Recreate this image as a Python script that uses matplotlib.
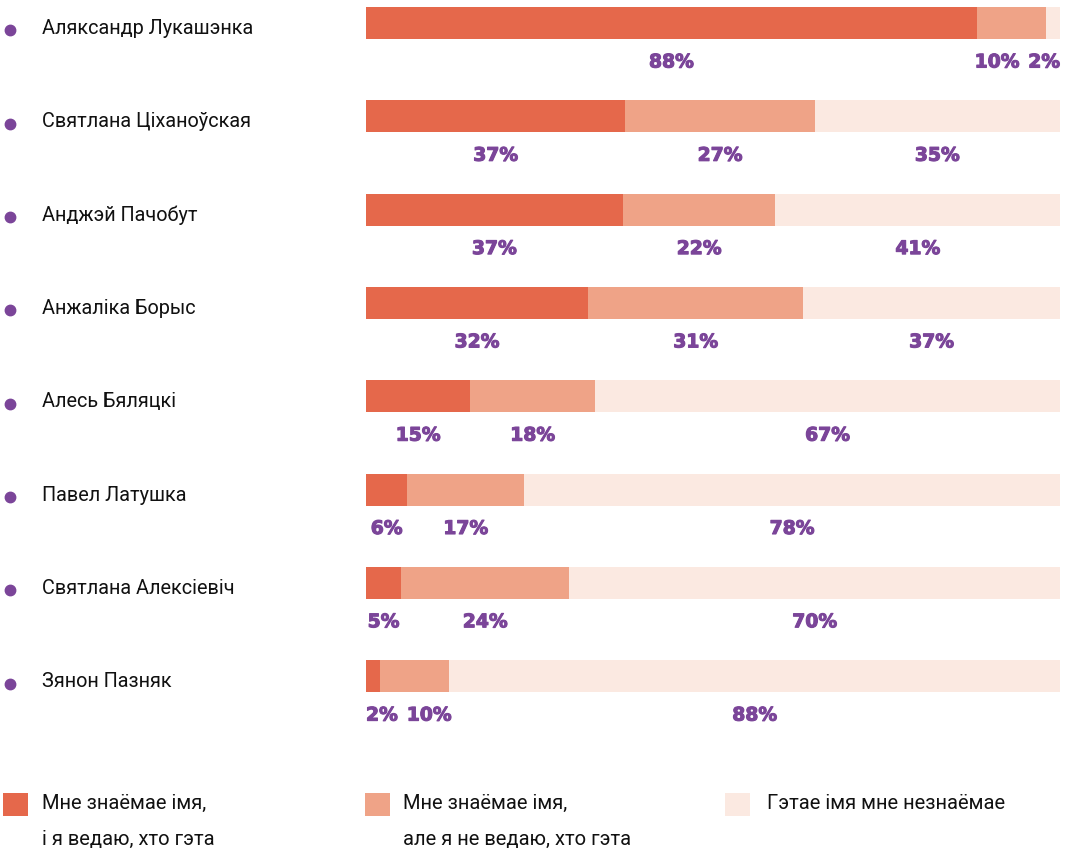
import matplotlib
matplotlib.use("Agg")
import matplotlib.pyplot as plt
import matplotlib.patheffects as pe
import numpy as np

# %% data (percent of respondents)
names = ["Аляксандр Лукашэнка", "Святлана Ціханоўская", "Анджэй Пачобут",
         "Анжаліка Борыс", "Алесь Бяляцкі", "Павел Латушка",
         "Святлана Алексіевіч", "Зянон Пазняк"]
know_who = [88, 37, 37, 32, 15, 6, 5, 2]
know_name_only = [10, 27, 22, 31, 18, 17, 24, 10]
unknown = [2, 35, 41, 37, 67, 78, 70, 88]
legend_labels = ["Мне знаёмае імя,\nі я ведаю, хто гэта",
                 "Мне знаёмае імя,\nале я не ведаю, хто гэта",
                 "Гэтае імя мне незнаёмае"]

colors = ["#E5684B", "#EFA387", "#FBE9E1"]
purple = "#7B4599"
name_font = "Roboto"
num_font = "DejaVu Sans"

W, H = 1072, 852
fig = plt.figure(figsize=(W / 100, H / 100), dpi=100)
row = 93.3
ax = fig.add_axes([366 / W, 1 - 746 / H, (1060 - 366) / W, 746 / H])
ax.set_xlim(0, 100)
ax.set_ylim((746 - 23) / row, -23 / row)
ax.axis("off")

vals = np.array([know_who, know_name_only, unknown], dtype=float)
shares = vals / vals.sum(axis=0) * 100
y = np.arange(len(names))
bar_h = 32 / row

left = np.zeros(len(names))
for k in range(3):
    ax.barh(y, shares[k], left=left, height=bar_h, color=colors[k], linewidth=0)
    left += shares[k]

# names with purple bullets
tr = matplotlib.transforms.blended_transform_factory(fig.transFigure, ax.transData)
for i, nm in enumerate(names):
    ax.plot([10 / W], [i + 0.08], "o", color=purple, ms=7.5, transform=tr, clip_on=False)
    ax.text(42 / W, i + 0.06, nm, transform=tr, ha="left", va="center",
            fontsize=14.3, family=name_font, color="#111111")

# percent labels under each segment, nudged apart where they collide
lab_y = 39 / row
thick = [pe.withStroke(linewidth=0.8, foreground=purple)]
texts = []
for i in range(len(names)):
    starts = np.concatenate([[0], np.cumsum(shares[:, i])[:-1]])
    row_txt = []
    for k in range(3):
        t = ax.text(starts[k] + shares[k, i] / 2, i + lab_y, f"{vals[k, i]:.0f}%",
                    ha="center", va="center", fontsize=13.5, family=num_font,
                    fontweight="bold", color=purple, path_effects=thick)
        row_txt.append(t)
    texts.append(row_txt)

fig.canvas.draw()
rend = fig.canvas.get_renderer()
x0_px = ax.transData.transform((0, 0))[0]
x1_px = ax.transData.transform((100, 0))[0]
gap = 9
for row_txt in texts:
    ext = [t.get_window_extent(rend) for t in row_txt]
    lefts = [e.x0 for e in ext]
    widths = [e.width for e in ext]
    prev_r = -np.inf
    for k in range(3):
        lefts[k] = max(lefts[k], prev_r + gap, x0_px)
        prev_r = lefts[k] + widths[k]
    nxt = np.inf
    for k in range(2, -1, -1):
        r = min(lefts[k] + widths[k], nxt - gap, x1_px)
        lefts[k] = r - widths[k]
        nxt = lefts[k]
    for k, t in enumerate(row_txt):
        cx = ax.transData.inverted().transform((lefts[k] + widths[k] / 2, 0))[0]
        t.set_x(cx)

# legend at the bottom
for k, (sx, tx) in enumerate([(3, 42), (365, 403), (725, 767)]):
    fig.patches.append(matplotlib.patches.Rectangle(
        (sx / W, 1 - 816 / H), 25 / W, 23 / H, transform=fig.transFigure,
        color=colors[k], linewidth=0))
    fig.text(tx / W, 1 - 794 / H, legend_labels[k], ha="left", va="top",
             fontsize=14.5, family=name_font, color="#111111", linespacing=2.15)

fig.savefig("out.png", dpi=100)
